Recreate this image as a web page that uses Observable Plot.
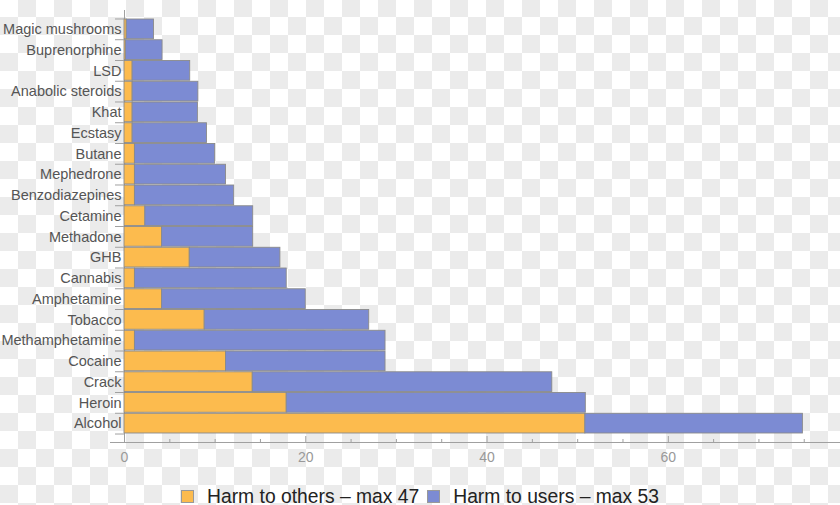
<!DOCTYPE html>
<html>
<head>
<meta charset="utf-8">
<script src="https://cdn.jsdelivr.net/npm/d3@7"></script>
<script src="https://cdn.jsdelivr.net/npm/@observablehq/plot@0.6"></script>
<style>
  html, body { margin: 0; padding: 0; }
  body {
    width: 840px; height: 505px; overflow: hidden;
    background: repeating-conic-gradient(#ebebeb 0 25%, #ffffff 0 50%) 0 -1px / 36px 36px;
    font-family: "Liberation Sans", Arial, sans-serif;
  }
  #legend {
    height: 35px; box-sizing: border-box; padding-top: 17px;
    display: flex; justify-content: center; align-items: baseline;
    font-size: 19.3px; line-height: 19px; color: #222;
  }
  .item { display: flex; align-items: baseline; margin: 0 4px; }
  .sw { width: 11px; height: 11px; border: 1px solid #999; margin-right: 13px; display: inline-block; }
</style>
</head>
<body>
<div id="chart"></div>
<div id="legend"></div>
<script>
const categories = ["Magic mushrooms","Buprenorphine","LSD","Anabolic steroids","Khat","Ecstasy","Butane","Mephedrone","Benzodiazepines","Cetamine","Methadone","GHB","Cannabis","Amphetamine","Tobacco","Methamphetamine","Cocaine","Crack","Heroin","Alcohol"];
const harmToOthers = [0.25, 0.15, 0.9, 0.9, 0.9, 0.9, 1.15, 1.15, 1.15, 2.3, 4.15, 7.2, 1.15, 4.15, 8.85, 1.15, 11.2, 14.15, 17.9, 50.85];
const harmToUsers  = [3.0, 4.05, 6.35, 7.25, 7.2, 8.2, 8.85, 10.05, 10.95, 11.9, 10.05, 10.0, 16.75, 15.85, 18.15, 27.65, 17.6, 33.05, 33.0, 24.0];
const seriesNames = ["Harm to others \u2013 max 47", "Harm to users \u2013 max 53"];
const seriesColors = ["#fcbb4e", "#7c8bd3"];
const xMajorTicks = [0, 20, 40, 60];
const xMinorTicks = [5, 10, 15, 25, 30, 35, 45, 50, 55, 65, 70, 75];

const rows = [
  ...categories.map((c, i) => ({drug: c, value: harmToOthers[i], series: seriesNames[0]})),
  ...categories.map((c, i) => ({drug: c, value: harmToUsers[i], series: seriesNames[1]}))
];

const yRange = [19, 433];
const padInner = 0.05;
const step = (yRange[1] - yRange[0]) / (categories.length - padInner);
const axisColor = "#a0a0a0";

const chart = Plot.plot({
  width: 840,
  height: 470,
  marginLeft: 124,
  marginRight: 0,
  marginTop: 10,
  marginBottom: 28,
  style: {background: "transparent", fontFamily: "'Liberation Sans', Arial, sans-serif"},
  x: {domain: [0, 79], axis: null},
  y: {domain: categories, range: yRange, paddingInner: padInner, paddingOuter: 0, round: false, axis: null},
  color: {domain: seriesNames, range: seriesColors},
  marks: [
    Plot.ruleX([0], {stroke: axisColor}),
    Plot.frame({anchor: "bottom", insetLeft: -14, stroke: axisColor}),
    Plot.barX(rows, Plot.stackX({y: "drug", x: "value", fill: "series", stroke: "#8a8a8a", strokeWidth: 0.9})),
    Plot.axisY({label: null, tickSize: 0, tickPadding: 3, fontSize: 14.5, fill: "#555"}),
    Plot.axisY({label: null, tickSize: 9, tickFormat: () => "", stroke: axisColor, dy: -step / 2}),
    Plot.axisY([categories[categories.length - 1]], {label: null, tickSize: 9, tickFormat: () => "", stroke: axisColor, dy: step / 2}),
    Plot.axisX({label: null, ticks: xMajorTicks, tickSize: 0, tickPadding: 10, fontSize: 14, fill: "#999"}),
    Plot.axisX({label: null, ticks: xMajorTicks, tickSize: 6, dy: -6, tickFormat: () => "", stroke: axisColor}),
    Plot.axisX({label: null, ticks: xMinorTicks, tickSize: 3, dy: -3, tickFormat: () => "", stroke: axisColor})
  ]
});
document.getElementById("chart").appendChild(chart);

const legend = document.getElementById("legend");
seriesNames.forEach((name, i) => {
  const item = document.createElement("span");
  item.className = "item";
  const sw = document.createElement("span");
  sw.className = "sw";
  sw.style.background = seriesColors[i];
  item.appendChild(sw);
  item.appendChild(document.createTextNode(name));
  legend.appendChild(item);
});
</script>
</body>
</html>
